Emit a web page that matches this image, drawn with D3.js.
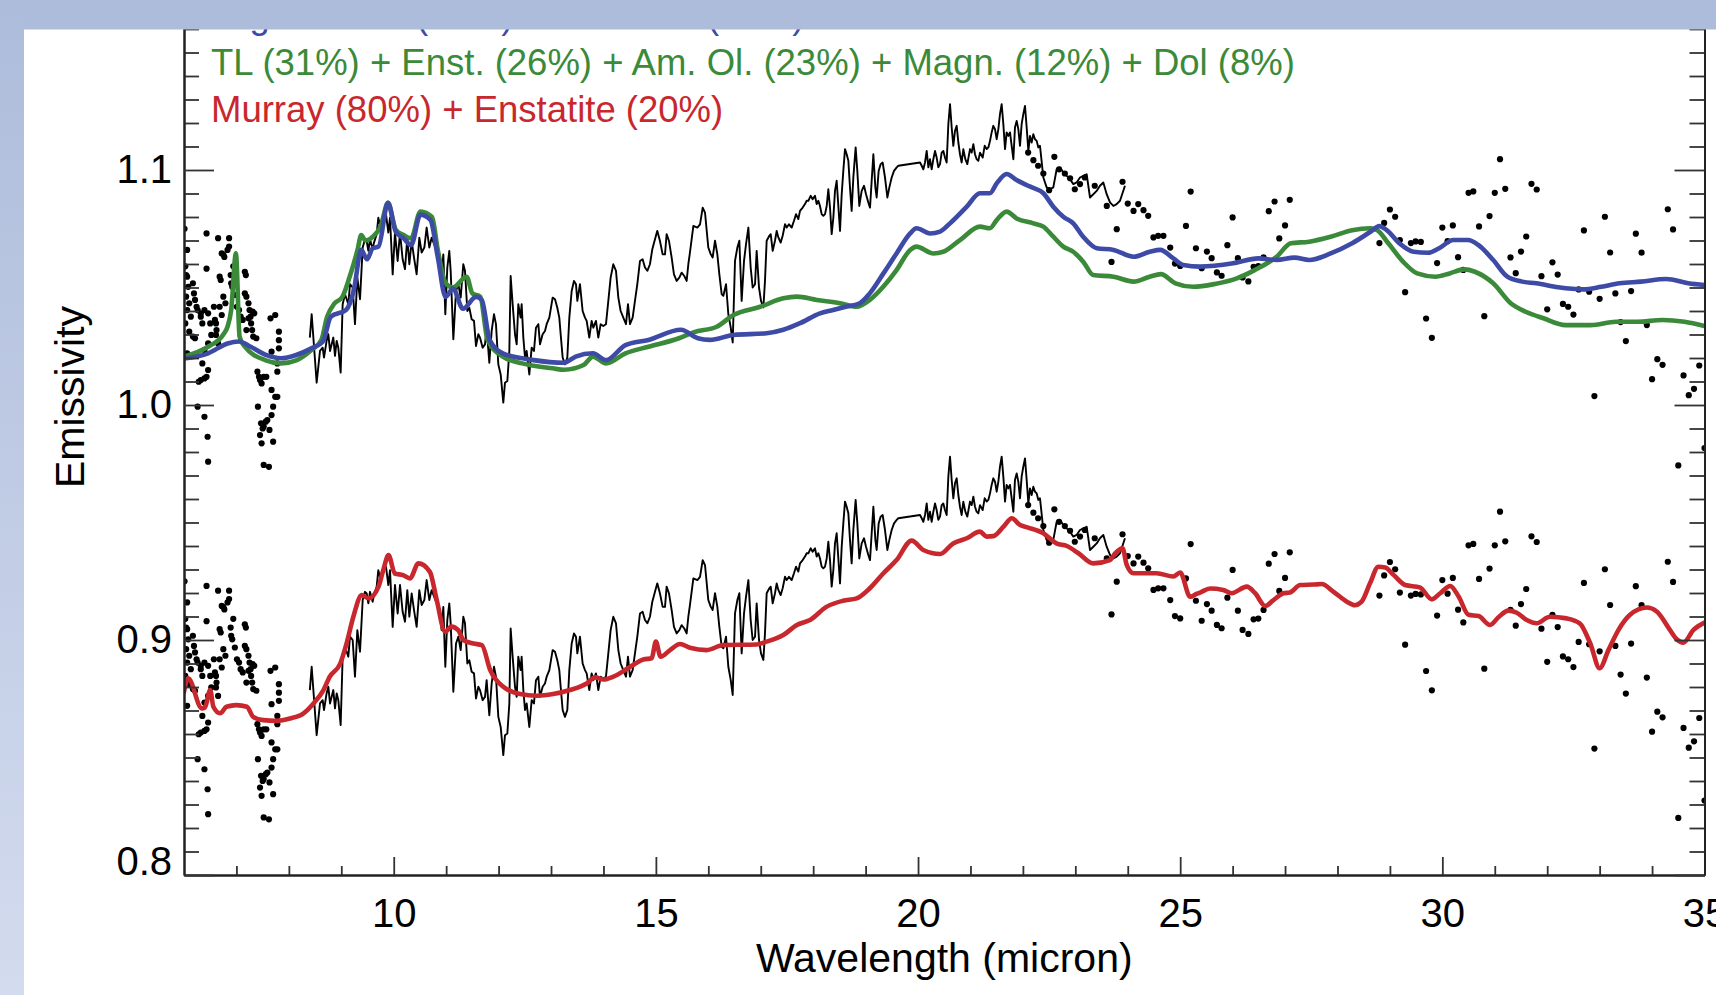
<!DOCTYPE html>
<html>
<head>
<meta charset="utf-8">
<script src="https://cdn.jsdelivr.net/npm/d3@7"></script>
<style>
  html, body { margin: 0; padding: 0; background: #ffffff; }
  svg { display: block; }
</style>
</head>
<body>
<svg id="chart" width="1716" height="995"></svg>
<script>
// ---------------------------------------------------------------------------
// Data: wavelength (micron), emissivity
// ---------------------------------------------------------------------------

// Vertical shift applied to the second (lower) copy of the observed spectrum
const lowerCopyOffset = 0.15;

// Observed spectrum, short-wavelength points (plotted as dots)
const obsDotsShort = [
  [6.01,1.075],[6.06,1.066],[6.025,1.059],[6.04,1.0553],[6.06,1.0546],[6.08,1.0503],[6.04,1.0461],
  [6.10,1.0433],[6.06,1.0404],[6.13,1.0376],[6.025,1.0347],[6.10,1.0312],[6.17,1.0291],[6.21,1.0284],
  [6.06,1.022],[6.17,1.0518],[6.19,1.0475],[6.21,1.0447],[6.24,1.0418],[6.26,1.0404],[6.32,1.0376],
  [6.35,1.0347],[6.32,1.039],[6.39,1.0404],[6.43,1.073],[6.43,1.058],[6.46,1.039],[6.5,1.0347],
  [6.52,1.0298],[6.46,1.0262],[6.39,1.0234],[6.35,1.0177],[6.32,1.0106],[6.28,1.0099],[6.39,1.0113],
  [6.43,1.012],[6.46,1.0149],[6.26,0.9993],[6.39,0.995],[6.45,0.9865],[6.46,0.9759],[6.57,1.0418],
  [6.59,1.0362],[6.61,1.0347],[6.62,1.0319],[6.61,1.0298],[6.65,1.0262],[6.65,1.071],[6.68,1.0546],
  [6.7,1.0532],[6.72,1.0645],[6.75,1.064],[6.77,1.063],[6.83,1.066],[6.86,1.071],[6.86,1.0674],
  [6.72,1.0383],[6.68,1.0418],[6.75,1.0461],[6.79,1.0433],[6.89,1.0553],[6.9,1.0518],[6.92,1.0503],
  [6.94,1.059],[6.97,1.0468],[7.01,1.0418],[7.05,1.0404],[7.08,1.0376],[7.12,1.0362],[7.16,1.0567],
  [7.18,1.0553],[7.16,1.0475],[7.19,1.0461],[7.23,1.0433],[7.25,1.0404],[7.27,1.0376],[7.28,1.0347],
  [7.3,1.0319],[7.32,1.0291],[7.34,1.039],[7.31,1.0397],[7.23,1.0369],[7.19,1.0319],[7.38,1.0284],
  [7.4,1.0142],[7.43,1.012],[7.45,1.0106],[7.48,1.0092],[7.52,1.012],[7.57,1.012],[7.41,0.9993],
  [7.47,0.9922],[7.5,0.99],[7.52,0.9908],[7.56,0.9929],[7.59,0.9936],[7.63,0.9894],[7.45,0.9872],
  [7.48,0.9837],[7.52,0.9745],[7.62,0.9737],[7.65,1.0369],[7.74,1.0383],[7.67,1.0227],[7.81,1.0312],
  [7.81,1.0276],[7.81,1.0241],[7.78,1.0177],[7.78,1.0142],[7.67,1.0064],[7.74,1.0035],[7.7,0.9993],
  [7.78,1.0035],[7.67,0.9957],[7.7,0.9844]
];

// Observed spectrum, mid-infrared segment (plotted as a line)
const obsLine = [
  [8.40,1.0287],[8.435,1.0386],[8.53,1.0095],[8.594,1.023],[8.645,1.0244],[8.67,1.0202],[8.72,1.0273],
  [8.753,1.0301],[8.785,1.023],[8.848,1.0287],[8.88,1.0209],[8.912,1.0273],[8.943,1.0244],[8.988,1.0138],
  [9.026,1.0429],[9.071,1.0471],[9.134,1.0429],[9.166,1.0514],[9.217,1.05],[9.261,1.0344],[9.306,1.0542],
  [9.357,1.045],[9.408,1.067],[9.452,1.0705],[9.484,1.0698],[9.516,1.0656],[9.547,1.0705],[9.598,1.0663],
  [9.624,1.0691],[9.675,1.0727],[9.706,1.0797],[9.751,1.0755],[9.802,1.0805],[9.852,1.0812],[9.897,1.0734],
  [9.929,1.0797],[9.98,1.0556],[10.024,1.0734],[10.075,1.0613],[10.12,1.0734],[10.17,1.062],[10.215,1.0578],
  [10.259,1.0712],[10.298,1.0599],[10.342,1.0698],[10.387,1.0627],[10.437,1.0556],[10.488,1.0712],
  [10.533,1.0649],[10.584,1.067],[10.628,1.0755],[10.679,1.067],[10.723,1.0712],[10.819,1.0656],
  [10.87,1.0627],[10.914,1.0542],[10.946,1.0641],[10.984,1.0386],[11.022,1.0585],[11.06,1.0656],
  [11.086,1.0571],[11.137,1.028],[11.188,1.0485],[11.232,1.0514],[11.277,1.0457],[11.327,1.0599],
  [11.359,1.0571],[11.404,1.04],[11.442,1.0414],[11.486,1.0365],[11.531,1.0358],[11.569,1.0251],
  [11.614,1.0301],[11.645,1.0287],[11.696,1.0244],[11.741,1.0258],[11.772,1.0329],[11.823,1.018],
  [11.868,1.0315],[11.912,1.0386],[11.95,1.0344],[11.995,1.0173],[12.04,1.013],[12.09,1.001],
  [12.122,1.0095],[12.167,1.0102],[12.205,1.023],[12.23,1.0549],[12.268,1.0429],[12.313,1.0301],
  [12.345,1.0258],[12.376,1.0429],[12.42,1.0372],[12.44,1.0429],[12.472,1.0287],[12.504,1.0202],
  [12.535,1.023],[12.586,1.013],[12.631,1.0244],[12.675,1.023],[12.713,1.0329],[12.758,1.0344],
  [12.79,1.0258],[12.84,1.0301],[12.885,1.0315],[12.917,1.0344],[12.968,1.0372],[13.031,1.0457],
  [13.076,1.045],[13.12,1.0414],[13.158,1.0372],[13.184,1.0301],[13.222,1.0202],[13.266,1.0173],
  [13.311,1.0202],[13.349,1.0372],[13.394,1.0485],[13.438,1.0528],[13.476,1.0514],[13.502,1.0443],
  [13.552,1.0514],[13.603,1.04],[13.648,1.0372],[13.68,1.0358],[13.73,1.0287],[13.775,1.0358],
  [13.807,1.0329],[13.857,1.0358],[13.902,1.0287],[13.947,1.0344],[13.997,1.0336],[14.048,1.0344],
  [14.093,1.0443],[14.137,1.0542],[14.188,1.0599],[14.239,1.0571],[14.284,1.0457],[14.328,1.04],
  [14.379,1.0372],[14.43,1.0344],[14.468,1.0429],[14.506,1.0344],[14.557,1.0372],[14.601,1.0443],
  [14.646,1.0514],[14.697,1.0613],[14.747,1.062],[14.792,1.0585],[14.837,1.0571],[14.887,1.0599],
  [14.932,1.0663],[14.983,1.0705],[15.027,1.0741],[15.078,1.0698],[15.129,1.0641],[15.174,1.0641],
  [15.205,1.0727],[15.25,1.0698],[15.301,1.0627],[15.345,1.0556],[15.396,1.0528],[15.447,1.0542],
  [15.491,1.0563],[15.542,1.0549],[15.587,1.0528],[15.619,1.0599],[15.65,1.0649],[15.715,1.0762],
  [15.791,1.0755],[15.842,1.0769],[15.893,1.084],[15.937,1.0819],[16.0,1.067],[16.045,1.0642],
  [16.083,1.0628],[16.128,1.0699],[16.172,1.0642],[16.21,1.0557],[16.255,1.0472],[16.287,1.0465],
  [16.338,1.0514],[16.382,1.0386],[16.427,1.033],[16.465,1.0266],[16.509,1.0613],[16.554,1.067],
  [16.592,1.0699],[16.636,1.0443],[16.681,1.0613],[16.719,1.0684],[16.764,1.0755],[16.808,1.0585],
  [16.846,1.05],[16.891,1.0514],[16.922,1.0656],[16.967,1.05],[17.005,1.0443],[17.05,1.0415],
  [17.081,1.0528],[17.113,1.0699],[17.164,1.072],[17.19,1.0727],[17.228,1.0656],[17.272,1.0699],
  [17.304,1.0741],[17.336,1.0713],[17.38,1.0691],[17.418,1.072],[17.463,1.0769],[17.495,1.0755],
  [17.539,1.0769],[17.59,1.0755],[17.634,1.0784],[17.673,1.0812],[17.717,1.0791],[17.749,1.0826],
  [17.8,1.084],[17.844,1.0855],[17.876,1.0869],[17.908,1.0869],[17.952,1.089],[17.99,1.0876],
  [18.035,1.089],[18.067,1.0855],[18.099,1.0869],[18.13,1.0847],[18.162,1.0812],[18.194,1.0805],
  [18.226,1.0812],[18.258,1.0847],[18.289,1.0918],[18.321,1.084],[18.353,1.0727],[18.385,1.0798],
  [18.416,1.0911],[18.448,1.0954],[18.512,1.0741],[18.544,1.0897],[18.575,1.0996],[18.607,1.1089],
  [18.639,1.1067],[18.671,1.1039],[18.702,1.0926],[18.734,1.0826],[18.766,1.0968],[18.81,1.1096],
  [18.842,1.0996],[18.88,1.0847],[18.925,1.0911],[18.97,1.0933],[19.008,1.0897],[19.052,1.0862],
  [19.084,1.084],[19.116,1.0954],[19.148,1.1067],[19.186,1.0926],[19.211,1.0883],[19.249,1.0996],
  [19.287,1.1025],[19.325,1.1032],[19.37,1.0968],[19.415,1.0883],[19.453,1.0926],[19.497,1.0968],
  [19.542,1.0996],[19.593,1.1011],[19.624,1.1018],[20.038,1.1032],[20.07,1.1018],[20.101,1.1003],
  [20.133,1.1032],[20.165,1.1081],[20.197,1.1011],[20.228,1.1046],[20.26,1.1003],[20.292,1.1046],
  [20.324,1.1081],[20.355,1.1053],[20.387,1.1011],[20.419,1.1025],[20.451,1.1074],[20.483,1.1081],
  [20.514,1.1053],[20.546,1.1032],[20.578,1.1195],[20.61,1.128],[20.642,1.1181],[20.673,1.1103],
  [20.705,1.1167],[20.737,1.1188],[20.769,1.1117],[20.8,1.1067],[20.832,1.1032],[20.864,1.1089],
  [20.902,1.1046],[20.94,1.1025],[20.991,1.1089],[21.023,1.1074],[21.055,1.111],[21.086,1.1067],
  [21.118,1.1046],[21.15,1.1039],[21.182,1.1074],[21.233,1.1053],[21.271,1.1103],[21.309,1.1089],
  [21.341,1.1096],[21.373,1.1124],[21.404,1.116],[21.436,1.1188],[21.468,1.1174],[21.5,1.1131],
  [21.532,1.1174],[21.563,1.1238],[21.595,1.128],[21.627,1.1195],[21.659,1.1089],[21.69,1.116],
  [21.722,1.1145],[21.754,1.116],[21.786,1.1103],[21.818,1.1046],[21.849,1.1181],[21.881,1.1209],
  [21.913,1.1174],[21.945,1.1103],[21.976,1.1195],[22.008,1.1238],[22.04,1.1273],[22.072,1.1181],
  [22.104,1.1081],[22.135,1.1145],[22.167,1.1117],[22.199,1.1152],[22.231,1.1131],[22.263,1.1124],
  [22.294,1.1096],[22.326,1.1103],[22.39,1.0968],[22.453,1.0926],[22.517,1.0918],[22.58,1.0926],
  [22.644,1.1003],[22.708,1.1011],[22.771,1.0989],[22.835,1.0975],[22.898,1.0961],[22.962,1.094],
  [23.025,1.0947],[23.089,1.0968],[23.153,1.0975],[23.216,1.0982],[23.28,1.0883],[23.343,1.0897],
  [23.407,1.0911],[23.47,1.0933],[23.534,1.0947],[23.598,1.0897],[23.661,1.0862],[23.725,1.0847],
  [23.788,1.0855],[23.852,1.0869],[23.947,1.0933]
];

// Observed spectrum, long-wavelength points (plotted as dots)
const obsDotsLong = [
  [22.10,1.1074],[22.2,1.1042],[22.29,1.1018],[22.39,1.0985],[22.5,1.0914],[22.6,1.1056],[22.69,1.1003],
  [22.8,1.0985],[22.9,1.0965],[22.99,1.0918],[23.09,1.094],[23.18,1.0968],[23.37,1.0933],[23.6,1.0847],
  [23.69,1.0609],[23.79,1.0748],[23.9,1.095],[24.0,1.0857],[24.11,1.0826],[24.2,1.0855],[24.3,1.0829],
  [24.39,1.0805],[24.49,1.0713],[24.58,1.072],[24.68,1.072],[24.81,1.067],[24.9,1.0602],[25.0,1.0592],
  [25.11,1.0762],[25.2,1.0908],[25.3,1.0667],[25.41,1.0582],[25.51,1.0653],[25.6,1.0625],[25.7,1.0564],
  [25.79,1.055],[25.9,1.068],[26.0,1.0798],[26.1,1.0625],[26.19,1.0543],[26.3,1.0526],[26.4,1.0588],
  [26.49,1.0591],[26.59,1.0628],[26.69,1.0825],[26.8,1.0866],[26.89,1.0709],[27.0,1.0764],[27.09,1.0873],
  [28.8,1.0689],[28.89,1.0775],[29.0,1.0832],[29.1,1.0801],[29.19,1.0702],[29.29,1.048],[29.4,1.0689],
  [29.49,1.0696],[29.59,1.0694],[29.69,1.0368],[29.8,1.0286],[29.9,1.0604],[30.0,1.0755],[30.1,1.0697],
  [30.2,1.0764],[30.3,1.0629],[30.4,1.0575],[30.5,1.0903],[30.59,1.0909],[30.7,1.076],[30.8,1.0378],
  [30.9,1.0804],[31.0,1.0903],[31.1,1.1046],[31.2,1.092],[31.3,1.0628],[31.4,1.0561],[31.5,1.0653],
  [31.6,1.0717],[31.7,1.0941],[31.8,1.0917],[31.89,1.0548],[32.0,1.0407],[32.1,1.0607],[32.2,1.0555],
  [32.3,1.043],[32.4,1.0418],[32.5,1.0385],[32.6,1.0492],[32.7,1.0743],[32.8,1.0482],[32.9,1.0038],
  [33.0,1.0452],[33.1,1.0801],[33.2,1.0649],[33.3,1.0475],[33.4,1.0353],[33.5,1.0272],[33.6,1.0485],
  [33.69,1.0729],[33.8,1.0648],[33.9,1.034],[34.0,1.011],[34.1,1.0195],[34.2,1.0171],[34.3,1.0833],
  [34.4,1.0747],[34.5,0.9743],[34.6,1.0126],[34.7,1.0042],[34.8,1.0069],[34.9,1.0168],[35.0,0.9817]
];

// Model: Tagish Lake + Enstatite
const modelBlue = [
  [6.0,1.0198],[6.46,1.022],[6.83,1.0262],[7.05,1.027],[7.27,1.0248],[7.56,1.0213],[7.85,1.0199],
  [8.14,1.0213],[8.43,1.0241],[8.65,1.027],[8.8,1.0376],[9.09,1.0404],[9.24,1.049],[9.38,1.066],
  [9.49,1.062],[9.6,1.0667],[9.71,1.0674],[9.89,1.086],[10.04,1.0737],[10.19,1.0709],[10.33,1.068],
  [10.51,1.081],[10.7,1.0787],[10.84,1.063],[10.99,1.046],[11.13,1.0496],[11.32,1.041],[11.57,1.046],
  [11.68,1.0447],[11.83,1.0277],[12.08,1.022],[12.67,1.0191],[13.25,1.018],[13.47,1.0206],[13.8,1.022],
  [14.05,1.0191],[14.42,1.0255],[14.86,1.0277],[15.48,1.032],[15.8,1.0284],[16.03,1.0277],[16.48,1.0298],
  [17.11,1.0305],[17.43,1.032],[17.75,1.0348],[18.13,1.039],[18.38,1.0404],[18.64,1.0419],[18.89,1.0433],
  [19.08,1.0475],[19.34,1.056],[19.59,1.0645],[19.85,1.073],[19.97,1.0752],[20.23,1.073],[20.42,1.0738],
  [20.61,1.0773],[20.93,1.0844],[21.18,1.0901],[21.37,1.0901],[21.5,1.0943],[21.69,1.0983],[21.88,1.0957],
  [22.14,1.0929],[22.39,1.0901],[22.58,1.0844],[22.77,1.0801],[22.96,1.0773],[23.15,1.0716],[23.41,1.0667],
  [23.73,1.066],[24.11,1.0631],[24.42,1.0652],[24.62,1.066],[24.87,1.0624],[25.06,1.0596],[25.38,1.0589],
  [26.01,1.0603],[26.49,1.0624],[26.84,1.0617],[27.18,1.0627],[27.46,1.0617],[27.87,1.0645],[28.28,1.0688],
  [28.63,1.0737],[28.8,1.0761],[28.94,1.0744],[29.18,1.0688],[29.45,1.0652],[29.73,1.0648],[29.93,1.0666],
  [30.21,1.0702],[30.49,1.0702],[30.69,1.068],[30.97,1.0617],[31.24,1.0546],[31.52,1.0525],[31.79,1.0518],
  [32.21,1.0501],[32.69,1.0492],[33.03,1.0503],[33.38,1.0518],[33.79,1.0525],[34.27,1.0536],[34.69,1.0518],
  [35.0,1.051]
];

// Model: TL + Enst. + Am. Ol. + Magn. + Dol
const modelGreen = [
  [6.0,1.0206],[6.46,1.0248],[6.75,1.03],[6.83,1.0333],[6.9,1.0404],[6.99,1.0645],[7.06,1.0291],
  [7.16,1.0248],[7.56,1.019],[7.85,1.0177],[8.14,1.019],[8.43,1.0234],[8.62,1.0277],[8.73,1.0376],
  [8.87,1.0432],[9.02,1.046],[9.16,1.0546],[9.31,1.066],[9.38,1.0723],[9.46,1.07],[9.6,1.0716],
  [9.75,1.076],[9.89,1.086],[10.04,1.0745],[10.19,1.0723],[10.33,1.0709],[10.51,1.0823],[10.73,1.08],
  [10.84,1.066],[10.99,1.052],[11.13,1.05],[11.39,1.0546],[11.5,1.0475],[11.65,1.0461],[11.79,1.0277],
  [12.08,1.0206],[12.45,1.0177],[13.03,1.0156],[13.25,1.015],[13.62,1.017],[13.8,1.0206],[14.05,1.0177],
  [14.42,1.022],[14.86,1.0248],[15.44,1.0284],[15.73,1.031],[16.16,1.0333],[16.48,1.0383],[16.99,1.0418],
  [17.43,1.0454],[17.69,1.0461],[18.07,1.0447],[18.51,1.0433],[18.83,1.0418],[19.08,1.0447],[19.34,1.0504],
  [19.59,1.0574],[19.85,1.066],[19.97,1.0674],[20.29,1.0645],[20.48,1.0652],[20.8,1.0702],[21.18,1.0759],
  [21.37,1.0752],[21.5,1.0787],[21.69,1.0823],[21.88,1.0794],[22.2,1.0773],[22.39,1.0759],[22.58,1.0716],
  [22.77,1.0674],[22.96,1.0652],[23.15,1.061],[23.34,1.0553],[23.73,1.0546],[24.11,1.0525],[24.42,1.0546],
  [24.63,1.0557],[24.91,1.0518],[25.25,1.0503],[25.66,1.0515],[26.08,1.0539],[26.42,1.0574],[26.84,1.0631],
  [27.11,1.0688],[27.46,1.0695],[27.87,1.0716],[28.28,1.0744],[28.63,1.0752],[28.76,1.0744],[28.97,1.0688],
  [29.25,1.061],[29.52,1.056],[29.87,1.0546],[30.14,1.056],[30.42,1.0577],[30.62,1.0567],[30.97,1.0518],
  [31.31,1.0432],[31.59,1.0397],[31.93,1.0369],[32.35,1.034],[32.83,1.034],[33.31,1.0354],[33.72,1.0354],
  [34.2,1.0362],[34.62,1.0354],[35.0,1.0336]
];

// Model: Murray + Enstatite
const modelRed = [
  [6.0,0.878],[6.08,0.8837],[6.34,0.8709],[6.4,0.8713],[6.5,0.8787],[6.56,0.8716],[6.69,0.8688],
  [6.81,0.8716],[7.0,0.8723],[7.2,0.8716],[7.32,0.8673],[7.51,0.8659],[7.77,0.8656],[8.02,0.8666],
  [8.28,0.8688],[8.47,0.873],[8.66,0.8787],[8.78,0.8844],[8.98,0.89],[9.1,0.8985],[9.23,0.9099],
  [9.39,0.9191],[9.52,0.9177],[9.71,0.9227],[9.8,0.9297],[9.9,0.9361],[10.02,0.9283],[10.18,0.9276],
  [10.31,0.9262],[10.47,0.9326],[10.69,0.929],[10.82,0.917],[10.98,0.9035],[11.1,0.9057],[11.23,0.9042],
  [11.33,0.9],[11.52,0.8985],[11.68,0.8978],[11.84,0.8872],[12.09,0.8801],[12.41,0.877],[12.73,0.8763],
  [13.04,0.877],[13.36,0.8787],[13.68,0.8815],[13.84,0.8841],[14.0,0.8832],[14.19,0.8844],[14.51,0.8886],
  [14.76,0.8917],[14.92,0.8922],[15.0,0.8993],[15.09,0.8929],[15.27,0.8957],[15.46,0.8983],[15.65,0.8967],
  [15.97,0.8957],[16.29,0.8979],[16.92,0.8981],[17.11,0.8993],[17.43,0.9021],[17.69,0.9064],[17.94,0.9085],
  [18.26,0.9142],[18.57,0.9167],[18.83,0.9177],[19.08,0.922],[19.34,0.9284],[19.59,0.934],[19.88,0.9423],
  [20.1,0.9383],[20.42,0.9366],[20.67,0.9411],[20.93,0.9433],[21.18,0.9461],[21.31,0.944],[21.44,0.9442],
  [21.63,0.9482],[21.79,0.9518],[21.94,0.949],[22.07,0.948],[22.39,0.9454],[22.64,0.9411],[22.84,0.94],
  [23.06,0.9369],[23.34,0.9326],[23.66,0.934],[23.76,0.9369],[23.9,0.939],[23.98,0.932],[24.11,0.9284],
  [24.3,0.9284],[24.55,0.9284],[24.87,0.927],[25.0,0.9287],[25.19,0.9184],[25.31,0.9196],[25.38,0.9202],
  [25.57,0.9219],[25.82,0.9213],[25.98,0.9199],[26.27,0.9227],[26.43,0.9199],[26.62,0.9145],[26.78,0.917],
  [26.97,0.9199],[27.09,0.9202],[27.29,0.9234],[27.54,0.9236],[27.7,0.9238],[27.92,0.9206],[28.18,0.9163],
  [28.33,0.9148],[28.46,0.9163],[28.62,0.9241],[28.78,0.9312],[28.91,0.9309],[29.07,0.9277],[29.29,0.9234],
  [29.57,0.9224],[29.8,0.9173],[29.96,0.9199],[30.15,0.923],[30.31,0.9185],[30.5,0.9107],[30.69,0.9102],
  [30.91,0.9064],[31.07,0.9097],[31.26,0.9125],[31.42,0.9116],[31.61,0.9085],[31.8,0.9071],[32.05,0.9099],
  [32.37,0.9092],[32.62,0.9071],[32.82,0.8986],[33.0,0.888],[33.17,0.8958],[33.36,0.9043],[33.58,0.9107],
  [33.9,0.9138],[34.09,0.9121],[34.34,0.9043],[34.47,0.9003],[34.6,0.8989],[34.79,0.9043],[35.0,0.9074]
];

// Axis ticks and labels
const xMajorTicks = [10, 15, 20, 25, 30, 35];
const xMinorTicks = [7, 8, 9, 11, 12, 13, 14, 16, 17, 18, 19, 21, 22, 23, 24, 26, 27, 28, 29, 31, 32, 33, 34];
const yMajorTicks = [0.8, 0.9, 1.0, 1.1];
const yMinorTicks = d3.range(81, 117).filter(d => d % 10 !== 0).map(d => d / 100);

const xTitle = "Wavelength (micron)";
const yTitle = "Emissivity";

// Legend entries, top to bottom
const legendLabels = [
  "Tagish Lake (70%) + Enstatite (30%)",
  "TL (31%) + Enst. (26%) + Am. Ol. (23%) + Magn. (12%) + Dol (8%)",
  "Murray (80%) + Enstatite (20%)"
];

// ---------------------------------------------------------------------------
// Drawing
// ---------------------------------------------------------------------------
const COLORS = { blue: "#3d4aa6", green: "#3b8a3a", red: "#c8282d", obs: "#000000" };
const FONT = "'Liberation Sans', Arial, Helvetica, sans-serif";

const svg = d3.select("#chart");
const width = 1716, height = 995;

const plotLeft = 184, plotRight = 1704.5, plotBottom = 875;
const x = d3.scaleLinear().domain([6, 35]).range([plotLeft, plotRight]);
const y = d3.scaleLinear().domain([0.8, 1.17]).range([plotBottom, 5.5]);
const plotTop = y(1.17);

svg.append("rect").attr("width", width).attr("height", height).attr("fill", "#ffffff");

const defs = svg.append("defs");
defs.append("clipPath").attr("id", "plot-clip")
  .append("rect")
  .attr("x", plotLeft).attr("y", plotTop)
  .attr("width", plotRight - plotLeft).attr("height", plotBottom - plotTop);

const sideGrad = defs.append("linearGradient").attr("id", "side-grad")
  .attr("x1", 0).attr("y1", 0).attr("x2", 0).attr("y2", 1);
sideGrad.append("stop").attr("offset", "0%").attr("stop-color", "#adbcdb");
sideGrad.append("stop").attr("offset", "100%").attr("stop-color", "#d3dbee");

const plot = svg.append("g").attr("clip-path", "url(#plot-clip)");

const lineGen = (offset, curve) => d3.line()
  .x(d => x(d[0]))
  .y(d => y(d[1] - offset))
  .curve(curve);

// Observed spectrum: upper copy as measured, lower copy shifted down
[0, lowerCopyOffset].forEach(offset => {
  plot.append("g").selectAll("circle")
    .data(obsDotsShort.concat(obsDotsLong))
    .join("circle")
    .attr("cx", d => x(d[0]))
    .attr("cy", d => y(d[1] - offset))
    .attr("r", 3.1)
    .attr("fill", COLORS.obs);

  plot.append("path")
    .datum(obsLine)
    .attr("d", lineGen(offset, d3.curveLinear))
    .attr("fill", "none")
    .attr("stroke", COLORS.obs)
    .attr("stroke-width", 1.9)
    .attr("stroke-linejoin", "round");
});

// Model fits
[[modelGreen, COLORS.green], [modelBlue, COLORS.blue], [modelRed, COLORS.red]].forEach(([data, color]) => {
  plot.append("path")
    .datum(data)
    .attr("d", lineGen(0, d3.curveMonotoneX))
    .attr("fill", "none")
    .attr("stroke", color)
    .attr("stroke-width", 4.6)
    .attr("stroke-linejoin", "round")
    .attr("stroke-linecap", "round");
});

// Axes (ticks point inward)
function styleAxis(g) {
  g.selectAll(".domain").attr("stroke", "#222").attr("stroke-width", 2);
  g.selectAll(".tick line").attr("stroke", "#333").attr("stroke-width", 1.8);
  g.selectAll(".tick text")
    .attr("fill", "#000")
    .style("font-family", FONT)
    .style("font-size", "40px");
}

const axes = svg.append("g");

axes.append("g").attr("transform", `translate(0,${plotBottom})`)
  .call(d3.axisBottom(x).tickValues(xMinorTicks).tickSize(-9).tickSizeOuter(0).tickFormat(""))
  .call(styleAxis);
axes.append("g").attr("transform", `translate(0,${plotBottom})`)
  .call(d3.axisBottom(x).tickValues(xMajorTicks).tickSize(-18).tickSizeOuter(0)
    .tickPadding(24).tickFormat(d3.format("d")))
  .call(styleAxis);

axes.append("g").attr("transform", `translate(0,${plotTop})`)
  .call(d3.axisTop(x).tickValues(xMinorTicks).tickSize(-9).tickSizeOuter(0).tickFormat(""))
  .call(styleAxis);
axes.append("g").attr("transform", `translate(0,${plotTop})`)
  .call(d3.axisTop(x).tickValues(xMajorTicks).tickSize(-18).tickSizeOuter(0).tickFormat(""))
  .call(styleAxis);

axes.append("g").attr("transform", `translate(${plotLeft},0)`)
  .call(d3.axisLeft(y).tickValues(yMinorTicks).tickSize(-15).tickSizeOuter(0).tickFormat(""))
  .call(styleAxis);
const yLabelAxis = axes.append("g").attr("transform", `translate(${plotLeft},0)`)
  .call(d3.axisLeft(y).tickValues(yMajorTicks).tickSize(-30).tickSizeOuter(0)
    .tickPadding(12).tickFormat(d3.format(".1f")))
  .call(styleAxis);
// the lowest label sits a little above the corner so it clears the x axis
yLabelAxis.selectAll(".tick text").filter(d => d === yMajorTicks[0]).attr("y", -13);

axes.append("g").attr("transform", `translate(${plotRight},0)`)
  .call(d3.axisRight(y).tickValues(yMinorTicks).tickSize(-15).tickSizeOuter(0).tickFormat(""))
  .call(styleAxis);
axes.append("g").attr("transform", `translate(${plotRight},0)`)
  .call(d3.axisRight(y).tickValues(yMajorTicks).tickSize(-30).tickSizeOuter(0).tickFormat(""))
  .call(styleAxis);

// Axis titles
svg.append("text")
  .attr("x", (plotLeft + plotRight) / 2).attr("y", 972)
  .attr("text-anchor", "middle")
  .style("font-family", FONT).style("font-size", "41px")
  .attr("fill", "#000")
  .text(xTitle);

svg.append("text")
  .attr("transform", "translate(84,397) rotate(-90)")
  .attr("text-anchor", "middle")
  .style("font-family", FONT).style("font-size", "41px")
  .attr("fill", "#000")
  .text(yTitle);

// Legend
const legendColors = [COLORS.blue, COLORS.green, COLORS.red];
const legendBaselines = [28, 75, 122];
svg.append("g").selectAll("text")
  .data(legendLabels)
  .join("text")
  .attr("x", 211)
  .attr("y", (d, i) => legendBaselines[i])
  .attr("fill", (d, i) => legendColors[i])
  .style("font-family", FONT).style("font-size", "36.5px")
  .text(d => d);

// Page frame: top band and left strip
svg.append("rect").attr("x", 0).attr("y", 0).attr("width", width).attr("height", 29.5).attr("fill", "#adbcdb");
svg.append("rect").attr("x", 0).attr("y", 0).attr("width", 24).attr("height", height).attr("fill", "url(#side-grad)");
</script>
</body>
</html>
